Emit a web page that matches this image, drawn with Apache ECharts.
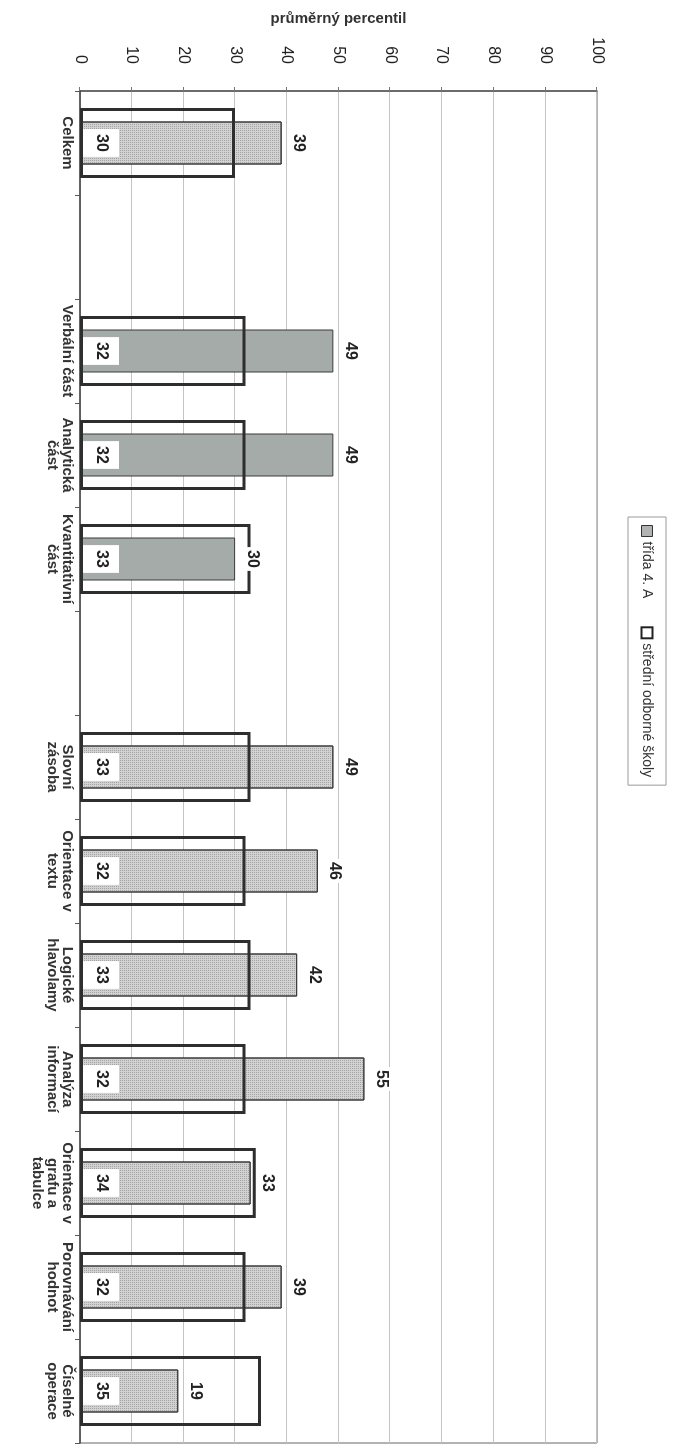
<!DOCTYPE html>
<html>
<head>
<meta charset="utf-8">
<script src="https://cdn.jsdelivr.net/npm/echarts@6/dist/echarts.min.js"></script>
<style>
html,body{margin:0;padding:0;width:691px;height:1449px;overflow:hidden;background:#fff;}
#chart{position:absolute;left:0;top:0;width:1449px;height:691px;transform-origin:0 0;transform:translate(691px,0) rotate(90deg);}
</style>
</head>
<body>
<div id="chart"></div>
<script>
// Data (spacer categories are empty strings)
const categories = ['Celkem', '', 'Verbální část', 'Analytická\nčást', 'Kvantitativní\nčást', '',
  'Slovní\nzásoba', 'Orientace v\ntextu', 'Logické\nhlavolamy', 'Analýza\ninformací',
  'Orientace v\ngrafu a\ntabulce', 'Porovnávání\nhodnot', 'Číselné\noperace'];
const seriesNames = ['třída 4. A', 'střední odborné školy'];
const tridaValues = [39, null, 49, 49, 30, null, 49, 46, 42, 55, 33, 39, 19];
const sosValues = [30, null, 32, 32, 33, null, 33, 32, 33, 32, 34, 32, 35];
const valueTicks = [0, 10, 20, 30, 40, 50, 60, 70, 80, 90, 100];
const partCategories = ['Verbální část', 'Analytická\nčást', 'Kvantitativní\nčást'];

const FONT = '"Liberation Sans", Arial, sans-serif';
const chart = echarts.init(document.getElementById('chart'), null, {width: 1449, height: 691});

const dotDecal = {symbol: 'rect', symbolSize: 1, dashArrayX: [1, 1], dashArrayY: [1, 1],
  color: 'rgba(110,110,110,0.45)', rotation: 0};

const tridaData = tridaValues.map((v, i) => {
  const isPart = partCategories.indexOf(categories[i]) >= 0;
  return {
    value: v,
    itemStyle: isPart ? {color: '#a5aba9'} : {color: '#d2d2d2', decal: dotDecal}
  };
});

const valueLabel = {show: true, position: 'top', distance: 8, fontFamily: FONT, fontSize: 16, fontWeight: 'bold',
  color: '#222', backgroundColor: '#ffffff', padding: [1, 3]};

chart.setOption({
  backgroundColor: '#ffffff',
  animation: false,
  textStyle: {fontFamily: FONT},
  legend: {
    left: 517, top: 25,
    orient: 'horizontal',
    icon: 'rect',
    itemWidth: 11, itemHeight: 11, itemGap: 28,
    padding: [12, 8],
    borderColor: '#9a9a9a', borderWidth: 1,
    textStyle: {fontFamily: FONT, fontSize: 14, color: '#333'},
    data: [
      {name: seriesNames[0], itemStyle: {color: '#b0b3b2', borderColor: '#333', borderWidth: 1, decal: 'none'}},
      {name: seriesNames[1], itemStyle: {color: '#ffffff', borderColor: '#222', borderWidth: 2}}
    ]
  },
  grid: {left: 91, right: 6, top: 94, bottom: 80, show: true, borderColor: '#666', borderWidth: 1},
  xAxis: [
    {
      type: 'category', data: categories,
      axisLine: {lineStyle: {color: '#444', width: 1.5}},
      axisTick: {show: true, length: 5, lineStyle: {color: '#555'}, alignWithLabel: false},
      axisLabel: {interval: 0, margin: 5, fontFamily: FONT, fontSize: 15, fontWeight: 'bold', color: '#333', lineHeight: 15}
    },
    {type: 'category', data: categories, show: false, position: 'bottom'}
  ],
  yAxis: {
    type: 'value', min: 0, max: 100, interval: 10,
    name: 'průměrný percentil', nameLocation: 'middle', nameGap: 64, nameRotate: 90,
    nameTextStyle: {fontFamily: FONT, fontSize: 15, fontWeight: 'bold', color: '#333'},
    axisLine: {show: true, lineStyle: {color: '#555', width: 1.5}},
    axisTick: {show: true, length: 4, lineStyle: {color: '#777'}},
    axisLabel: {margin: 27, fontFamily: FONT, fontSize: 16, color: '#222',
      formatter: v => valueTicks.indexOf(v) >= 0 ? String(v) : ''},
    splitLine: {show: true, lineStyle: {color: '#c4c4c4', width: 1}}
  },
  series: [
    {
      name: seriesNames[0], type: 'bar', xAxisIndex: 1, barWidth: 43, barGap: '-100%',
      data: tridaData,
      itemStyle: {borderColor: '#3a3a3a', borderWidth: 1},
      label: {show: false},
      z: 2
    },
    {
      name: seriesNames[1], type: 'bar', xAxisIndex: 0, barWidth: 70,
      data: sosValues,
      itemStyle: {color: 'rgba(0,0,0,0)', borderColor: '#2e2e2e', borderWidth: 3},
      label: {show: true, position: 'insideBottom', distance: 3, fontFamily: FONT, fontSize: 16, fontWeight: 'bold',
        color: '#222', backgroundColor: '#ffffff', padding: [10, 5]},
      z: 3
    },
    {
      // value labels of "třída 4. A", drawn above the outline bars
      name: seriesNames[0], type: 'bar', xAxisIndex: 1, barWidth: 43, barGap: '-100%',
      data: tridaValues,
      itemStyle: {color: 'rgba(0,0,0,0)', borderWidth: 0},
      label: valueLabel,
      silent: true,
      z: 5
    }
  ]
});
</script>
</body>
</html>
